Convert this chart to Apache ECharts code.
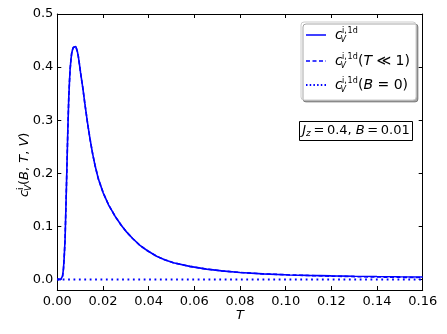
<!DOCTYPE html>
<html>
<head>
<meta charset="utf-8">
<script src="https://cdn.jsdelivr.net/npm/echarts@6/dist/echarts.min.js"></script>
<style>html,body{margin:0;padding:0;background:#fff}#c{width:447px;height:334px}</style>
</head>
<body>
<div id="c"></div>
<script>
// ---- data ----
var tValues = [0, 0.0015, 0.0019, 0.0023, 0.0027, 0.003, 0.0034, 0.0038, 0.0042, 0.0046, 0.005, 0.0053, 0.0056, 0.006, 0.0063, 0.0067, 0.007, 0.0074, 0.0078, 0.0081, 0.0084, 0.0088, 0.0092, 0.0097, 0.0102, 0.0112, 0.0121, 0.0132, 0.0143, 0.0155, 0.0165, 0.018, 0.0201, 0.0225, 0.0253, 0.028, 0.0304, 0.033, 0.0362, 0.0395, 0.0435, 0.047, 0.0508, 0.058, 0.0654, 0.072, 0.080, 0.09, 0.1019, 0.11, 0.12, 0.13, 0.14, 0.15, 0.16];
var cvFull = [0, 0, 0.001, 0.006, 0.02, 0.04, 0.075, 0.14, 0.21, 0.28, 0.34, 0.37, 0.395, 0.415, 0.426, 0.433, 0.437, 0.439, 0.44, 0.439, 0.436, 0.429, 0.42, 0.405, 0.389, 0.36, 0.33, 0.296, 0.265, 0.236, 0.215, 0.189, 0.163, 0.14, 0.119, 0.102, 0.089, 0.077, 0.064, 0.054, 0.0435, 0.037, 0.0315, 0.0245, 0.0193, 0.016, 0.013, 0.0104, 0.0084, 0.0075, 0.0067, 0.006, 0.0054, 0.0049, 0.0045];
var cvLowT = [0, 0, 0.001, 0.006, 0.02, 0.04, 0.075, 0.14, 0.21, 0.28, 0.34, 0.37, 0.395, 0.415, 0.426, 0.433, 0.437, 0.439, 0.44, 0.439, 0.436, 0.429, 0.42, 0.405, 0.389, 0.36, 0.33, 0.296, 0.265, 0.236, 0.215, 0.189, 0.163, 0.14, 0.119, 0.102, 0.089, 0.077, 0.064, 0.054, 0.0435, 0.037, 0.0315, 0.0245, 0.0193, 0.016, 0.013, 0.0104, 0.0084, 0.0072, 0.0061, 0.0052, 0.0045, 0.0039, 0.0035];
var tZeroB = [0, 0.16];
var cvZeroB = [0, 0];
var yTicks = [0, 0.1, 0.2, 0.3, 0.4, 0.5];
var seriesNames = ['full', 'lowT', 'B0'];
// --------------------------------------

function pairs(xs, ys) { return xs.map(function (x, i) { return [x, ys[i]]; }); }

var FONT = 'DejaVu Sans';
var BLUE = '#0000ff';
var TS = '\u2009';

function cvText(x, y, suffixRich) {
  var els = [
    { type: 'text', x: x, y: y, style: { text: 'c', font: 'italic 14px "DejaVu Sans"', fill: '#000', verticalAlign: 'middle' } },
    { type: 'text', x: x + 7, y: y - 4, style: { text: 'i,\u200a1d', font: '8px "DejaVu Sans"', fill: '#000', verticalAlign: 'middle' } },
    { type: 'text', x: x + 5.5, y: y + 4.5, style: { text: 'V', font: 'italic 8px "DejaVu Sans"', fill: '#000', verticalAlign: 'middle' } }
  ];
  if (suffixRich) {
    els.push({ type: 'text', x: x + 23, y: y, style: {
      text: suffixRich, fill: '#000', verticalAlign: 'middle',
      rich: {
        n: { fontFamily: FONT, fontSize: 14, fontStyle: 'normal', fill: '#000' },
        i: { fontFamily: FONT, fontSize: 14, fontStyle: 'italic', fill: '#000' }
      }
    } });
  }
  return els;
}

var rows = [35, 61, 85];
var legendChildren = [
  { type: 'rect', shape: { x: 301, y: 22, width: 115, height: 78, r: 3 },
    style: { fill: '#fff', stroke: '#cccccc', lineWidth: 1, shadowBlur: 0, shadowOffsetX: 2, shadowOffsetY: 2, shadowColor: 'rgba(0,0,0,0.35)' } },
  { type: 'line', shape: { x1: 306, y1: rows[0], x2: 326, y2: rows[0] }, style: { stroke: BLUE, lineWidth: 1.5 } },
  { type: 'line', shape: { x1: 306, y1: rows[1], x2: 326, y2: rows[1] }, style: { stroke: BLUE, lineWidth: 1.5, lineDash: [4, 2.5] } },
  { type: 'line', shape: { x1: 306, y1: rows[2], x2: 326, y2: rows[2] }, style: { stroke: BLUE, lineWidth: 1.8, lineDash: [1.5, 2.2] } }
];
legendChildren = legendChildren
  .concat(cvText(335, rows[0], null))
  .concat(cvText(335, rows[1], '{n|(}{i|T}{n| ≪ 1)}'))
  .concat(cvText(335, rows[2], '{n|(}{i|B}{n| = 0)}'));

var paramBox = [
  { type: 'rect', shape: { x: 299.5, y: 121.5, width: 113, height: 19 }, style: { fill: '#fff', stroke: '#000', lineWidth: 1 } },
  { type: 'text', x: 356, y: 131, style: {
      text: '{i|J}{s|z}{n|' + TS + '=' + TS + '0.4, }{i|B}{n|' + TS + '=' + TS + '0.01}', align: 'center', verticalAlign: 'middle',
      rich: {
        n: { fontFamily: FONT, fontSize: 13, fill: '#000' },
        i: { fontFamily: FONT, fontSize: 13, fontStyle: 'italic', fill: '#000' },
        s: { fontFamily: FONT, fontSize: 9, fontStyle: 'italic', fill: '#000', verticalAlign: 'bottom', padding: [6, 0, 0, 0] }
      } } }
];

var yTitle = {
  type: 'group', x: 25, y: 158, rotation: Math.PI / 2,
  children: [
    { type: 'text', x: -39, y: 0, style: { text: 'c', font: 'italic 13px "DejaVu Sans"', fill: '#000', verticalAlign: 'middle' } },
    { type: 'text', x: -32, y: -4, style: { text: 'i', font: '9px "DejaVu Sans"', fill: '#000', verticalAlign: 'middle' } },
    { type: 'text', x: -33, y: 4, style: { text: 'V', font: 'italic 9px "DejaVu Sans"', fill: '#000', verticalAlign: 'middle' } },
    { type: 'text', x: -27, y: 0, style: {
        text: '{n|(}{i|B}{n|, }{i|T}{n|, }{i|V}{n|)}', verticalAlign: 'middle',
        rich: {
          n: { fontFamily: FONT, fontSize: 13, fill: '#000' },
          i: { fontFamily: FONT, fontSize: 13, fontStyle: 'italic', fill: '#000' }
        } } }
  ]
};

var axisLineStyle = { color: '#000', width: 1 };
var chart = echarts.init(document.getElementById('c'), null, { renderer: 'canvas' });
chart.setOption({
  backgroundColor: '#fff',
  animation: false,
  grid: { left: 57.3, right: 24.3, top: 14, bottom: 44, containLabel: false },
  xAxis: [
    { type: 'value', min: 0, max: 0.16, interval: 0.02, position: 'bottom',
      axisLine: { show: true, onZero: false, lineStyle: axisLineStyle },
      axisTick: { show: true, inside: true, length: 4, lineStyle: axisLineStyle },
      axisLabel: { color: '#000', fontFamily: FONT, fontSize: 13, margin: 5, formatter: function (v) { return v.toFixed(2); } },
      splitLine: { show: false },
      name: 'T', nameLocation: 'middle', nameGap: 19, nameMoveOverlap: false,
      nameTextStyle: { fontFamily: FONT, fontSize: 13, fontStyle: 'italic', color: '#000' } },
    { type: 'value', min: 0, max: 0.16, interval: 0.02, position: 'top',
      axisLine: { show: true, onZero: false, lineStyle: axisLineStyle },
      axisTick: { show: true, inside: true, length: 4, lineStyle: axisLineStyle },
      axisLabel: { show: false }, splitLine: { show: false } }
  ],
  yAxis: [
    { type: 'value', min: -0.02, max: 0.5, position: 'left',
      axisLine: { show: true, onZero: false, lineStyle: axisLineStyle },
      axisTick: { show: true, inside: true, length: 4, lineStyle: axisLineStyle, customValues: yTicks },
      axisLabel: { color: '#000', fontFamily: FONT, fontSize: 13, margin: 4, customValues: yTicks, formatter: function (v) { return v.toFixed(1); } },
      splitLine: { show: false } },
    { type: 'value', min: -0.02, max: 0.5, position: 'right',
      axisLine: { show: true, onZero: false, lineStyle: axisLineStyle },
      axisTick: { show: true, inside: true, length: 4, lineStyle: axisLineStyle, customValues: yTicks },
      axisLabel: { show: false, customValues: yTicks }, splitLine: { show: false } }
  ],
  series: [
    { name: seriesNames[0], type: 'line', data: pairs(tValues, cvFull), showSymbol: false, smooth: false,
      lineStyle: { color: BLUE, width: 1.6 }, z: 3 },
    { name: seriesNames[1], type: 'line', data: pairs(tValues, cvLowT), showSymbol: false, smooth: false,
      lineStyle: { color: BLUE, width: 1.6, type: [4, 2.5] }, z: 4 },
    { name: seriesNames[2], type: 'line', data: pairs(tZeroB, cvZeroB), showSymbol: false,
      lineStyle: { color: BLUE, width: 2, type: [1.8, 3.6] }, z: 5 }
  ],
  graphic: [
    { type: 'group', children: legendChildren, z: 100 },
    { type: 'group', children: paramBox, z: 100 },
    yTitle
  ]
});
</script>
</body>
</html>
